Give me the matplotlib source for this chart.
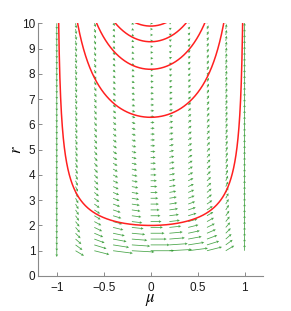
import numpy as np
import matplotlib
matplotlib.use("Agg")
import matplotlib.pyplot as plt

# Data
mu_grid = [-1.0, -0.8, -0.6, -0.4, -0.2, 0.0, 0.2, 0.4, 0.6, 0.8, 1.0]
r_min, r_max, n_rows = 1.0, 10.0, 40
impact_params = [2.0, 6.28, 8.18, 9.27, 9.89]   # minimum r of each red ray (at mu = 0)
arrow_scale = 0.25                               # data units per unit field magnitude
x_ticks = [-1, -0.5, 0, 0.5, 1]
x_tick_labels = ["\u22121", "\u22120.5", "0", "0.5", "1"]
y_ticks = list(range(0, 11))

plt.rcParams['font.family'] = ['Liberation Sans', 'DejaVu Sans']
plt.rcParams['mathtext.fontset'] = 'stix'

fig = plt.figure(figsize=(2.91, 3.11), dpi=100)
ax = fig.add_axes([38/291, 1-276/311, (263.3-38)/291, (276-23.3)/311])

# Vector field of straight rays in (mu, r): dmu/ds = (1-mu^2)/r, dr/ds = mu
r_grid = np.linspace(r_min, r_max, n_rows)
M, R = np.meshgrid(np.array(mu_grid), r_grid)
U = (1 - M**2) / R
V = M
ax.quiver(M, R, U, V, angles='xy', scale_units='xy', scale=1/arrow_scale,
          color='#2a962a', width=0.0035, headwidth=3.5, headlength=3.5,
          headaxislength=3, minlength=0, minshaft=0.5, alpha=0.85, zorder=2)

# Red integral curves r*sqrt(1-mu^2) = b
mu_line = np.linspace(-0.99999, 0.99999, 4001)
for b in impact_params:
    r_line = b / np.sqrt(1 - mu_line**2)
    r_line = np.where(r_line <= 10.3, r_line, np.nan)
    ax.plot(mu_line, r_line, color='#ff2020', lw=1.1, zorder=3)

ax.set_xlim(-1.2, 1.2)
ax.set_ylim(0, 10)
ax.set_xticks(x_ticks)
ax.set_xticklabels(x_tick_labels)
ax.set_yticks(y_ticks)

for side in ['top', 'right']:
    ax.spines[side].set_visible(False)
for side in ['left', 'bottom']:
    ax.spines[side].set_color('#8a8a8a')
    ax.spines[side].set_linewidth(0.8)
ax.tick_params(direction='in', length=3, width=0.7, color='#8a8a8a',
               labelsize=8.5, labelcolor='#1a1a1a', pad=2)
ax.tick_params(axis='x', pad=4)

ax.set_xlabel(r'$\mu$', fontsize=12, labelpad=0)
ax.xaxis.set_label_coords(0.5, -0.065)
ax.set_ylabel(r'$r$', fontsize=12)
ax.yaxis.set_label_coords(-0.06, 0.5)

fig.savefig('out.png', dpi=100)
